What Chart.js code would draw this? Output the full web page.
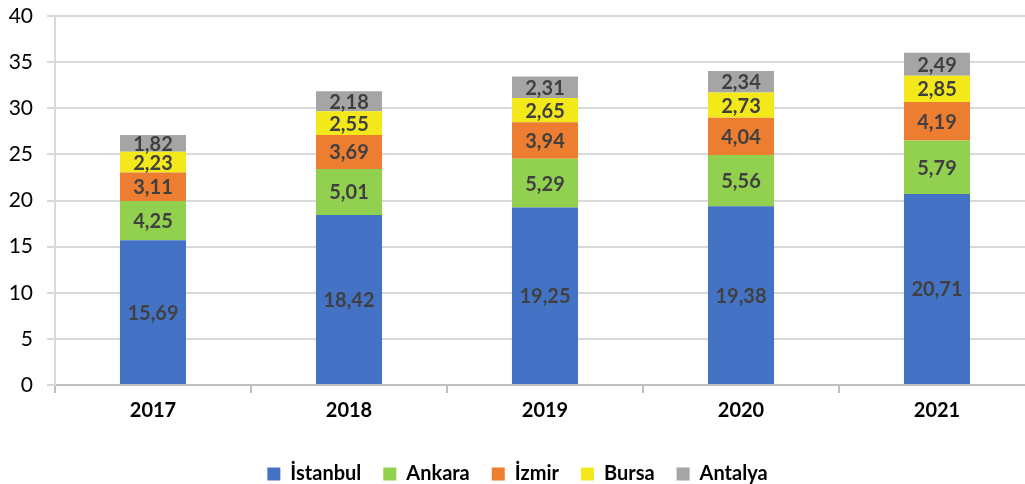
<!DOCTYPE html>
<html>
<head>
<meta charset="utf-8">
<script src="https://cdn.jsdelivr.net/npm/chart.js@4"></script>
<style>
  html, body { margin: 0; padding: 0; overflow: hidden; background: #fff; }
</style>
</head>
<body>
<canvas id="myChart" width="1045" height="494"></canvas>
<script>
// years on the x axis
var years = ["2017", "2018", "2019", "2020", "2021"];

// values per city
var istanbul = [15.69, 18.42, 19.25, 19.38, 20.71];
var ankara = [4.25, 5.01, 5.29, 5.56, 5.79];
var izmir = [3.11, 3.69, 3.94, 4.04, 4.19];
var bursa = [2.23, 2.55, 2.65, 2.73, 2.85];
var antalya = [1.82, 2.18, 2.31, 2.34, 2.49];

var cityNames = ["İstanbul", "Ankara", "İzmir", "Bursa", "Antalya"];
var cityColors = ["#4472c4", "#92d050", "#ed7d31", "#f3e81a", "#a5a5a5"];
var cityValues = [istanbul, ankara, izmir, bursa, antalya];

var yTicks = [0, 5, 10, 15, 20, 25, 30, 35, 40];

var fontName = "Lato, 'Open Sans', sans-serif";

// labels in the middle of each segment
var segmentLabels = {
    id: "segmentLabels",
    afterDatasetsDraw: function (chart) {
        var ctx = chart.ctx;
        ctx.save();
        ctx.font = "bold 20px " + fontName;
        ctx.fillStyle = "#404040";
        ctx.textAlign = "center";
        ctx.textBaseline = "middle";
        chart.data.datasets.forEach(function (ds, i) {
            var meta = chart.getDatasetMeta(i);
            meta.data.forEach(function (bar, j) {
                var txt = ds.data[j].toFixed(2).replace(".", ",");
                ctx.fillText(txt, bar.x, (bar.y + bar.base) / 2 + 1);
            });
        });
        ctx.restore();
    }
};

var datasets = [];
for (var i = 0; i < cityNames.length; i++) {
    datasets.push({
        label: cityNames[i],
        data: cityValues[i],
        backgroundColor: cityColors[i],
        borderWidth: 0,
        categoryPercentage: 1,
        barPercentage: 0.337
    });
}

new Chart("myChart", {
    type: "bar",
    data: {
        labels: years,
        datasets: datasets
    },
    plugins: [segmentLabels],
    options: {
        responsive: false,
        animation: false,
        layout: { padding: { top: 0, left: 0, right: 10, bottom: 0 } },
        plugins: {
            tooltip: { enabled: false },
            legend: {
                position: "bottom",
                labels: {
                    color: "#000",
                    font: { family: fontName, size: 20, weight: "bold" },
                    boxWidth: 13,
                    boxHeight: 13,
                    padding: 22
                }
            }
        },
        scales: {
            x: {
                stacked: true,
                grid: {
                    offset: true,
                    drawOnChartArea: false,
                    tickLength: 8,
                    color: "#bfbfbf",
                    lineWidth: 2
                },
                border: { color: "#bfbfbf", width: 2 },
                ticks: {
                    color: "#000",
                    font: { family: fontName, size: 20, weight: "bold" },
                    padding: 6
                },
                afterFit: function (scale) { scale.height = 57; }
            },
            y: {
                stacked: true,
                min: 0,
                max: 40,
                afterBuildTicks: function (scale) {
                    scale.ticks = yTicks.map(function (v) { return { value: v }; });
                },
                grid: {
                    color: "#d9d9d9",
                    lineWidth: 2,
                    tickLength: 8
                },
                border: { color: "#d9d9d9", width: 2 },
                ticks: {
                    color: "#000",
                    font: { family: fontName, size: 21, lineHeight: 0.2 },
                    padding: 14
                },
                afterFit: function (scale) { scale.width = 55; }
            }
        }
    }
});
</script>
</body>
</html>
